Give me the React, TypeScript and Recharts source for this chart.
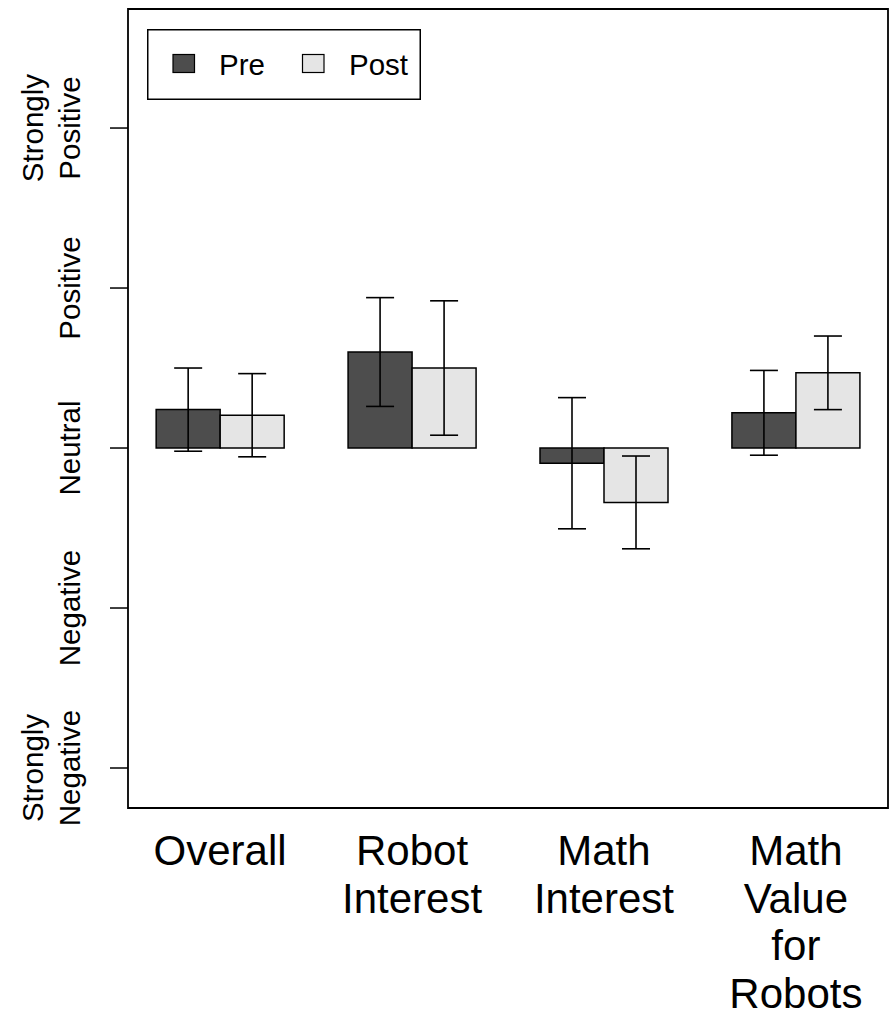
import { BarChart, Bar, XAxis, YAxis, ErrorBar, Legend, ReferenceArea } from 'recharts';

// attitude change, relative to "Neutral" (1 unit = one Likert step)
const categories = ['Overall', 'Robot\nInterest', 'Math\nInterest', 'Math\nValue\nfor\nRobots'];
const preValues = [0.24, 0.6, -0.095, 0.22];
const postValues = [0.205, 0.5, -0.34, 0.47];
const preErr = [0.26, 0.34, 0.41, 0.265];
const postErr = [0.26, 0.42, 0.29, 0.23];

const yTicks = [-2, -1, 0, 1, 2];
const yTickLabels = ['Strongly\nNegative', 'Negative', 'Neutral', 'Positive', 'Strongly\nPositive'];

const FONT = '"Liberation Sans", Arial, Helvetica, sans-serif';
const PRE_FILL = '#4d4d4d';
const POST_FILL = '#e5e5e5';

// R barplot layout: groups of two unit-wide bars with one unit of space between
const data = categories.map((name, i) => ({
  x: 2 + 3 * i,
  name,
  pre: preValues[i],
  post: postValues[i],
  preErr: preErr[i],
  postErr: postErr[i],
}));

const X_DOMAIN: [number, number] = [0.56, 12.44];
const Y_DOMAIN: [number, number] = [-2.25, 2.744];

function XTick(props: any) {
  const { x, y, payload } = props;
  const row = data.find((d) => d.x === payload.value);
  if (!row) return null;
  const lines = row.name.split('\n');
  return (
    <text x={x} y={y} textAnchor="middle" fontFamily={FONT} fontSize={42} fill="#000">
      {lines.map((l, i) => (
        <tspan key={i} x={x} dy={i === 0 ? 57 : 47.7}>
          {l}
        </tspan>
      ))}
    </text>
  );
}

function YTick(props: any) {
  const { x, y, payload } = props;
  const idx = yTicks.indexOf(payload.value);
  if (idx < 0) return null;
  const lines = yTickLabels[idx].split('\n');
  const n = lines.length;
  return (
    <g transform={`translate(${x - 28}, ${y}) rotate(-90)`}>
      {lines.map((l, i) => (
        <text key={i} x={0} y={-(n - 1 - i) * 37} textAnchor="middle" fontFamily={FONT} fontSize={29.5} fill="#000">
          {l}
        </text>
      ))}
    </g>
  );
}

function LegendBox() {
  return (
    <svg width={274} height={71} style={{ display: 'block' }}>
      <rect x={0.75} y={0.75} width={272.5} height={69.5} fill="#fff" stroke="#000" strokeWidth={1.5} />
      <rect x={26} y={25.5} width={21.5} height={18} fill={PRE_FILL} stroke="#000" strokeWidth={1.2} />
      <text x={72} y={45.5} fontFamily={FONT} fontSize={29.5} fill="#000">Pre</text>
      <rect x={155.5} y={25.5} width={21.5} height={18} fill={POST_FILL} stroke="#000" strokeWidth={1.2} />
      <text x={202} y={45.5} fontFamily={FONT} fontSize={29.5} fill="#000">Post</text>
    </svg>
  );
}

export default function App() {
  return (
    <div style={{ position: 'absolute', left: 0, top: 0, background: '#fff' }}>
      <BarChart
        width={896}
        height={1021}
        data={data}
        margin={{ top: 9, right: 8, bottom: 0, left: 0 }}
        barGap={0}
        barSize={64}
      >
        <XAxis
          dataKey="x"
          type="number"
          domain={X_DOMAIN}
          ticks={[2, 5, 8, 11]}
          allowDataOverflow
          axisLine={false}
          tickLine={false}
          tickSize={0}
          tickMargin={0}
          interval={0}
          height={213}
          tick={<XTick />}
        />
        <YAxis
          type="number"
          domain={Y_DOMAIN}
          ticks={yTicks}
          allowDataOverflow
          axisLine={false}
          tickLine={{ stroke: '#000', strokeWidth: 1.5 }}
          tickSize={18}
          tickMargin={2}
          interval={0}
          width={128}
          tick={<YTick />}
        />
        <ReferenceArea
          x1={X_DOMAIN[0]}
          x2={X_DOMAIN[1]}
          y1={Y_DOMAIN[0]}
          y2={Y_DOMAIN[1]}
          ifOverflow="visible"
          fill="none"
          stroke="#000"
          strokeWidth={1.8}
        />
        <Legend
          layout="vertical"
          align="center"
          verticalAlign="middle"
          wrapperStyle={{ left: 147, top: 29, width: 274, height: 71 }}
          content={<LegendBox />}
        />
        <Bar dataKey="pre" name="Pre" fill={PRE_FILL} stroke="#000" strokeWidth={1.5} isAnimationActive={false}>
          <ErrorBar dataKey="preErr" direction="y" width={14} stroke="#000" strokeWidth={1.6} />
        </Bar>
        <Bar dataKey="post" name="Post" fill={POST_FILL} stroke="#000" strokeWidth={1.5} isAnimationActive={false}>
          <ErrorBar dataKey="postErr" direction="y" width={14} stroke="#000" strokeWidth={1.6} />
        </Bar>
      </BarChart>
    </div>
  );
}
